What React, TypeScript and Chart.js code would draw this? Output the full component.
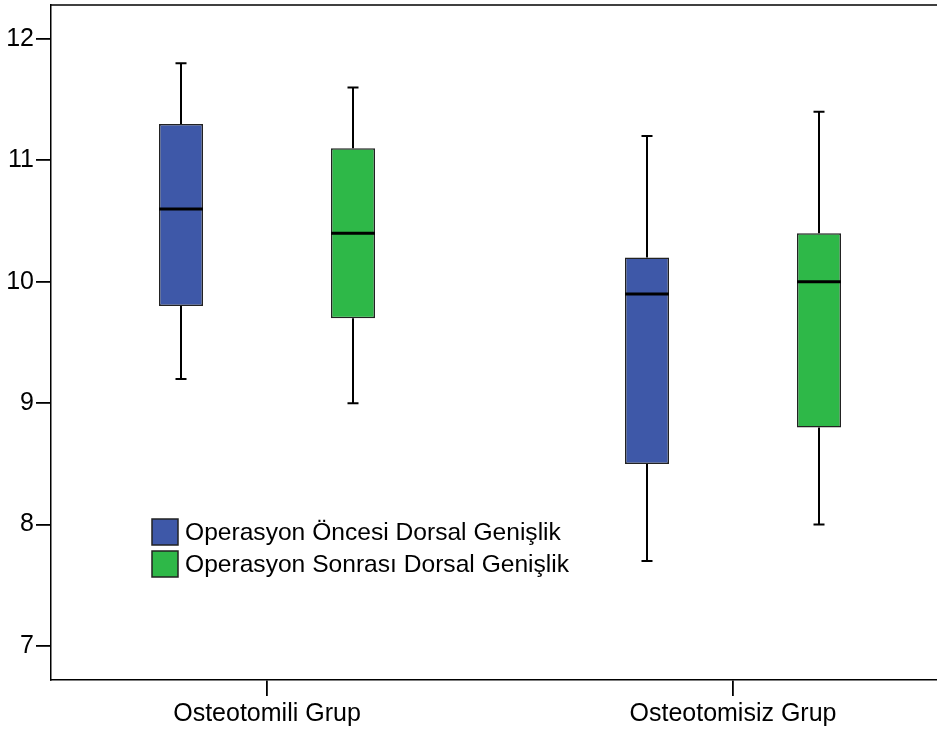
import React, { useEffect, useRef } from "react";
import { Chart, registerables } from "chart.js";

Chart.register(...registerables);

const categories = ["Osteotomili Grup", "Osteotomisiz Grup"];
const categoryPositions = [1, 2];
const seriesNames = ["Operasyon Öncesi Dorsal Genişlik", "Operasyon Sonrası Dorsal Genişlik"];
const seriesColors = ["#3E58A8", "#2EB848"];

// [group1, group2]
const preMin = [9.2, 7.7];
const preQ1 = [9.8, 8.5];
const preMedian = [10.6, 9.9];
const preQ3 = [11.3, 10.2];
const preMax = [11.8, 11.2];

const postMin = [9.0, 8.0];
const postQ1 = [9.7, 8.8];
const postMedian = [10.4, 10.0];
const postQ3 = [11.1, 10.4];
const postMax = [11.6, 11.4];

const yTicks = [7, 8, 9, 10, 11, 12];

const FONT = "'Liberation Sans', Arial, sans-serif";

const stats = [
  { min: preMin, q1: preQ1, med: preMedian, q3: preQ3, max: preMax },
  { min: postMin, q1: postQ1, med: postMedian, q3: postQ3, max: postMax },
];

const boxPlugin = {
  id: "boxExtras",
  afterDatasetsDraw(chart: any) {
    const ctx = chart.ctx;
    const y = chart.scales.y;
    ctx.save();
    stats.forEach((s, di) => {
      const meta = chart.getDatasetMeta(di);
      meta.data.forEach((bar: any, i: number) => {
        const cx = bar.x;
        const w = bar.width;
        const pMin = y.getPixelForValue(s.min[i]);
        const pMax = y.getPixelForValue(s.max[i]);
        const pQ1 = y.getPixelForValue(s.q1[i]);
        const pQ3 = y.getPixelForValue(s.q3[i]);
        const pMed = y.getPixelForValue(s.med[i]);
        ctx.strokeStyle = "#000";
        ctx.lineWidth = 2;
        ctx.beginPath();
        ctx.moveTo(cx, pQ3);
        ctx.lineTo(cx, pMax);
        ctx.moveTo(cx, pQ1);
        ctx.lineTo(cx, pMin);
        ctx.moveTo(cx - 5.5, pMax);
        ctx.lineTo(cx + 5.5, pMax);
        ctx.moveTo(cx - 5.5, pMin);
        ctx.lineTo(cx + 5.5, pMin);
        ctx.stroke();
        ctx.lineWidth = 3;
        ctx.beginPath();
        ctx.moveTo(cx - w / 2, pMed);
        ctx.lineTo(cx + w / 2, pMed);
        ctx.stroke();
      });
    });
    // top frame line
    const a = chart.chartArea;
    ctx.strokeStyle = "#000";
    ctx.lineWidth = 1.5;
    ctx.beginPath();
    ctx.moveTo(a.left, a.top);
    ctx.lineTo(a.right, a.top);
    ctx.stroke();
    // legend
    const lx = a.left + 101;
    const ly = a.top + 514;
    ctx.font = `24.6px ${FONT}`;
    ctx.textBaseline = "middle";
    seriesNames.forEach((name, k) => {
      const top = ly + k * 32;
      ctx.fillStyle = seriesColors[k];
      ctx.fillRect(lx, top, 26, 26);
      ctx.strokeStyle = "#222";
      ctx.lineWidth = 1.5;
      ctx.strokeRect(lx, top, 26, 26);
      ctx.fillStyle = "#000";
      ctx.fillText(name, lx + 33, top + 14);
    });
    ctx.restore();
  },
};

export default function App() {
  const ref = useRef<HTMLCanvasElement | null>(null);
  useEffect(() => {
    document.body.style.margin = "0";
    const unit = 466;
    const left = 51;
    const right = 937;
    const xMin = 1 - (267 - left) / unit;
    const xMax = xMin + (right - left) / unit;
    const chart = new Chart(ref.current as HTMLCanvasElement, {
      type: "bar",
      data: {
        datasets: stats.map((s, di) => ({
          label: seriesNames[di],
          data: categoryPositions.map((x, i) => ({ x, y: [s.q1[i], s.q3[i]] })),
          backgroundColor: seriesColors[di],
          borderColor: "#222",
          borderWidth: 1.5,
          borderSkipped: false,
          categoryPercentage: 344 / 466,
          barPercentage: 44 / 172,
        })) as any,
      },
      options: {
        animation: false,
        responsive: true,
        maintainAspectRatio: false,
        layout: { padding: { top: 5, right: 0, left: 0, bottom: 0 } },
        plugins: { legend: { display: false }, tooltip: { enabled: false } },
        scales: {
          x: {
            type: "linear",
            offset: false,
            min: xMin,
            max: xMax,
            afterBuildTicks: (sc: any) => {
              sc.ticks = categoryPositions.map((v) => ({ value: v }));
            },
            afterFit: (sc: any) => {
              sc.height = 49;
              sc.paddingLeft = 0;
              sc.paddingRight = 0;
            },
            ticks: {
              autoSkip: false,
              maxRotation: 0,
              padding: 3,
              color: "#000",
              font: { family: FONT, size: 25 },
              callback: (v: any) => {
                const idx = categoryPositions.indexOf(Number(v));
                return idx >= 0 ? categories[idx] : "";
              },
            },
            grid: { offset: false, drawOnChartArea: false, drawTicks: true, tickLength: 16, color: "#000", lineWidth: 1.8 },
            border: { display: true, color: "#000", width: 1.5 },
          },
          y: {
            type: "linear",
            min: 6.72,
            max: 12.28,
            afterBuildTicks: (sc: any) => {
              sc.ticks = yTicks.map((v) => ({ value: v }));
            },
            afterFit: (sc: any) => {
              sc.width = 51;
              sc.paddingTop = 0;
              sc.paddingBottom = 0;
            },
            ticks: {
              padding: 2,
              color: "#000",
              font: { family: FONT, size: 25 },
            },
            grid: { drawOnChartArea: false, drawTicks: true, tickLength: 15, color: "#000", lineWidth: 1.8 },
            border: { display: true, color: "#000", width: 1.5 },
          },
        },
      },
      plugins: [boxPlugin],
    });
    return () => chart.destroy();
  }, []);
  return (
    <div style={{ width: 937, height: 729, position: "relative", background: "#fff" }}>
      <canvas ref={ref} />
    </div>
  );
}
